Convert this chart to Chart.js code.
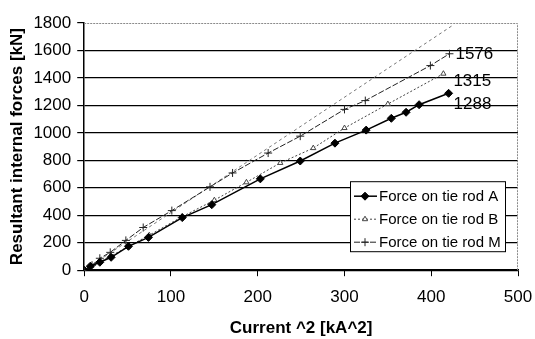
<!DOCTYPE html>
<html>
<head>
<meta charset="utf-8">
<script src="https://cdn.jsdelivr.net/npm/chart.js@4.4.1/dist/chart.umd.min.js"></script>
<style>
  html, body { margin: 0; padding: 0; background: #fff; }
  #wrap { width: 535px; height: 339px; }
</style>
</head>
<body>
<div id="wrap"><canvas id="grafico"></canvas></div>
<script>
// datos (x = corriente^2 en kA^2, y = fuerza en kN)
const corrienteA = [0, 7, 18, 31, 51, 74, 113, 147, 203, 249, 289, 325, 354, 371, 386, 420];
const fuerzaA    = [0, 29, 58, 94, 174, 239, 383, 477, 665, 795, 925, 1020, 1106, 1150, 1205, 1288];

const corrienteB = [0, 8, 18, 30, 50, 75, 113, 150, 187, 226, 264, 300, 350, 414];
const fuerzaB    = [0, 30, 62, 100, 170, 255, 390, 510, 640, 781, 889, 1035, 1210, 1431];

const corrienteM = [0, 9, 18, 30, 48, 68, 101, 145, 171, 212, 249, 300, 324, 399, 421];
const fuerzaM    = [0, 36, 87, 130, 217, 311, 434, 607, 708, 853, 976, 1171, 1235, 1490, 1576];

// recta de pendiente inicial (linea discontinua superior)
const corrienteRecta = [0, 424];
const fuerzaRecta    = [0, 1780];

const etiquetas = ['Force on tie rod A', 'Force on tie rod B', 'Force on tie rod M'];
const valoresFinales = ['1288', '1315', '1576'];

const ticksX = [0, 100, 200, 300, 400, 500];
const ticksY = [0, 200, 400, 600, 800, 1000, 1200, 1400, 1600, 1800];

const fuente = "'Liberation Sans', Arial, sans-serif";

function puntos(xs, ys) {
    return xs.map((x, i) => ({ x: x, y: ys[i] }));
}

/**
 * bordes punteados arriba y a la derecha del area de trazado
 */
const bordePunteado = {
    id: 'bordePunteado',
    beforeDatasetsDraw(chart) {
        const a = chart.chartArea;
        const ctx = chart.ctx;
        ctx.save();
        ctx.strokeStyle = '#8a8a8a';
        ctx.lineWidth = 1;
        ctx.setLineDash([2, 1]);
        ctx.beginPath();
        ctx.moveTo(a.left, a.top + 0.5);
        ctx.lineTo(a.right - 0.5, a.top + 0.5);
        ctx.lineTo(a.right - 0.5, a.bottom);
        ctx.stroke();
        ctx.restore();
    }
};

/**
 * valores escritos al final de cada serie
 */
const valoresAlFinal = {
    id: 'valoresAlFinal',
    afterDatasetsDraw(chart) {
        const ctx = chart.ctx;
        const desplaz = [[5, 11], [10, 8], [6, 1]];
        ctx.save();
        ctx.font = '17px ' + fuente;
        ctx.fillStyle = '#000';
        ctx.textBaseline = 'middle';
        ctx.textAlign = 'left';
        for (let i = 0; i < 3; i++) {
            const meta = chart.getDatasetMeta(i);
            const ultimo = meta.data[meta.data.length - 1];
            ctx.fillText(valoresFinales[i], ultimo.x + desplaz[i][0], ultimo.y + desplaz[i][1]);
        }
        ctx.restore();
    }
};

/**
 * leyenda con recuadro dentro del area de trazado
 */
const leyendaCaja = {
    id: 'leyendaCaja',
    afterDraw(chart) {
        const a = chart.chartArea;
        const ctx = chart.ctx;
        const ancho = 155, alto = 70;
        const x0 = a.right - 13 - ancho;
        const y0 = a.bottom - 19 - alto;
        ctx.save();
        ctx.fillStyle = '#fff';
        ctx.fillRect(x0, y0, ancho, alto);
        ctx.strokeStyle = '#000';
        ctx.lineWidth = 1;
        ctx.setLineDash([]);
        ctx.strokeRect(x0 + 0.5, y0 + 0.5, ancho, alto);
        ctx.font = '15px ' + fuente;
        ctx.textBaseline = 'middle';
        for (let i = 0; i < 3; i++) {
            const ds = chart.data.datasets[i];
            const yc = y0 + 15 + i * 23;
            ctx.strokeStyle = ds.borderColor;
            ctx.lineWidth = ds.borderWidth;
            ctx.setLineDash(ds.borderDash || []);
            ctx.beginPath();
            ctx.moveTo(x0 + 4, yc);
            ctx.lineTo(x0 + 27, yc);
            ctx.stroke();
            ctx.setLineDash([]);
            ctx.fillStyle = ds.backgroundColor;
            ctx.lineWidth = 1;
            Chart.helpers.drawPoint(ctx, {
                pointStyle: ds.pointStyle,
                radius: ds.pointRadius,
                borderWidth: 1
            }, x0 + 15, yc);
            ctx.fillStyle = '#000';
            ctx.fillText(etiquetas[i], x0 + 29, yc + 1);
        }
        ctx.restore();
    }
};

new Chart(document.getElementById('grafico'), {
    type: 'scatter',
    data: {
        datasets: [
            {
                label: etiquetas[0],
                data: puntos(corrienteA, fuerzaA),
                showLine: true,
                borderColor: '#000',
                backgroundColor: '#000',
                borderWidth: 1.5,
                pointStyle: 'rectRot',
                pointRadius: 4,
                pointBorderWidth: 1
            },
            {
                label: etiquetas[1],
                data: puntos(corrienteB, fuerzaB),
                showLine: true,
                borderColor: '#444',
                backgroundColor: '#fff',
                borderWidth: 1,
                borderDash: [2, 2],
                pointStyle: 'triangle',
                pointRadius: 3,
                pointBorderWidth: 1
            },
            {
                label: etiquetas[2],
                data: puntos(corrienteM, fuerzaM),
                showLine: true,
                borderColor: '#222',
                backgroundColor: '#000',
                borderWidth: 1,
                borderDash: [6, 2],
                pointStyle: 'cross',
                pointRadius: 4,
                pointBorderWidth: 1
            },
            {
                label: 'recta',
                data: puntos(corrienteRecta, fuerzaRecta),
                showLine: true,
                borderColor: '#777',
                borderWidth: 1,
                borderDash: [3, 3],
                pointRadius: 0
            }
        ]
    },
    options: {
        responsive: true,
        maintainAspectRatio: false,
        animation: false,
        layout: { padding: { left: 0, right: 0, top: 23, bottom: 0 } },
        plugins: {
            legend: { display: false },
            tooltip: { enabled: false }
        },
        scales: {
            x: {
                type: 'linear',
                min: 0,
                max: 500,
                afterBuildTicks: (s) => { s.ticks = ticksX.map(v => ({ value: v })); },
                afterFit: (s) => { s.paddingRight = 17; },
                grid: {
                    drawOnChartArea: false,
                    drawTicks: true,
                    tickLength: 6,
                    color: '#000'
                },
                border: { color: '#000', width: 1.5 },
                ticks: {
                    padding: 11,
                    color: '#000',
                    font: { family: fuente, size: 17 },
                    callback: (v) => String(v)
                },
                title: {
                    display: true,
                    text: 'Current ^2 [kA^2]',
                    color: '#000',
                    font: { family: fuente, size: 17, weight: 'bold' },
                    padding: { top: 0, bottom: 0 }
                }
            },
            y: {
                min: 0,
                max: 1800,
                afterBuildTicks: (s) => { s.ticks = ticksY.map(v => ({ value: v })); },
                grid: {
                    color: (c) => c.tick && c.tick.value === 1800 ? 'rgba(0,0,0,0)' : '#000',
                    tickColor: '#000',
                    lineWidth: 1.2,
                    tickLength: 7
                },
                border: { color: '#000', width: 1.5 },
                ticks: {
                    padding: 6,
                    color: '#000',
                    font: { family: fuente, size: 17 },
                    callback: (v) => String(v)
                },
                title: {
                    display: true,
                    text: 'Resultant internal forces [kN]',
                    color: '#000',
                    font: { family: fuente, size: 17, weight: 'bold' },
                    padding: { top: 7, bottom: 0 }
                }
            }
        }
    },
    plugins: [bordePunteado, valoresAlFinal, leyendaCaja]
});
</script>
</body>
</html>
